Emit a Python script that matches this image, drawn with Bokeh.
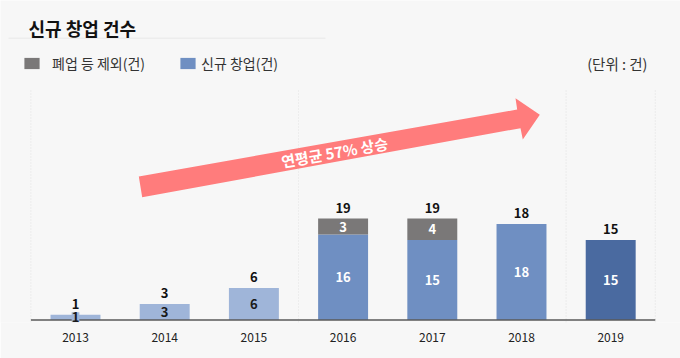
from bokeh.plotting import figure
from bokeh.models import Range1d, FixedTicker, Legend, LegendItem, Label, ColumnDataSource
from bokeh.core.properties import value
from bokeh.embed import file_html
from bokeh.resources import INLINE

# ---- data ----
years = ["2013", "2014", "2015", "2016", "2017", "2018", "2019"]
new_startups = [1, 3, 6, 16, 15, 18, 15]        # 신규 창업(건)
excluded = [0, 0, 0, 3, 4, 0, 0]                # 폐업 등 제외(건)
totals = [n + e for n, e in zip(new_startups, excluded)]

# ---- styles ----
FONT = "Noto Sans CJK KR"
bar_colors = ["#9fb5d9"] * 3 + ["#6f8fc2"] * 3 + ["#4a6aa0"]
inner_text_colors = ["#1a1a1a"] * 3 + ["#ffffff"] * 4
excluded_color = "#7a7878"
arrow_color = "#ff7c7c"
bg = "#f7f7f7"

W, H = 680, 358
FRAME_H = 322
X0, XS = 75.0, 89.2   # px of first category, px per category
Y0, YS = 319.5, 5.34  # px of value 0, px per unit


def dx(px):
    return (px - X0) / XS


def dy(py):
    return (Y0 - py) / YS


idx = list(range(len(years)))

p = figure(width=W, height=H, output_backend="svg", toolbar_location=None,
           x_range=Range1d(dx(0), dx(W)), y_range=Range1d(dy(FRAME_H), dy(0)),
           y_axis_location=None, min_border_left=0, min_border_right=0,
           min_border_top=0, min_border_bottom=H - FRAME_H,
           background_fill_color=bg, border_fill_color=bg, outline_line_color=None)
p.grid.visible = False

# x axis with year labels
ax = p.xaxis[0]
ax.ticker = FixedTicker(ticks=idx)
ax.major_label_overrides = {i: y for i, y in zip(idx, years)}
ax.axis_line_color = None
ax.major_tick_line_color = None
ax.minor_tick_line_color = None
ax.major_label_text_font = FONT
ax.major_label_text_font_size = "12px"
ax.major_label_text_color = "#222222"
ax.major_label_standoff = 4

# section dividers (faint dotted)
dividers = [-0.5, 2.5, 5.5, 6.5]
p.segment(x0=dividers, x1=dividers, y0=[dy(FRAME_H)] * 4, y1=[dy(90)] * 4,
          line_color="#e2e2e2", line_width=1, line_dash="1 2")

# title + separator
p.add_layout(Label(x=dx(28), y=dy(27), text="신규 창업 건수", text_font=FONT,
                   text_font_size="18px", text_font_style="bold", text_color="#111111",
                   text_align="left", text_baseline="middle"))
p.segment(x0=[dx(8)], x1=[dx(325)], y0=[dy(37.7)], y1=[dy(37.7)],
          line_color="#e8e8e8", line_width=1)

# unit note
p.add_layout(Label(x=dx(647), y=dy(63), text="(단위 : 건)", text_font=FONT,
                   text_font_size="14.5px", text_color="#333333",
                   text_align="right", text_baseline="middle"))

# arrow
arrow_px = [(138.3, 176.0), (516.7, 109.0), (515.0, 97.7), (539.3, 114.3),
            (522.3, 139.0), (520.0, 127.7), (141.7, 196.7)]
p.patch(x=[dx(a) for a, b in arrow_px], y=[dy(b) for a, b in arrow_px],
        fill_color=arrow_color, line_color=None)
p.text(x=[dx(334)], y=[dy(151.5)], text=["연평균 57% 상승"], angle=0.1752,
       text_font=value(FONT), text_font_size="15px", text_font_style="bold",
       text_color="white", text_align="center", text_baseline="middle")

# bars
src = ColumnDataSource(dict(x=idx, new=new_startups, tot=totals,
                            color=bar_colors, tcolor=inner_text_colors,
                            mid=[n / 2 for n in new_startups],
                            lbl=[str(n) for n in new_startups],
                            tlbl=[str(t) for t in totals]))
r_new = p.vbar(x="x", width=0.56, bottom=0, top="new", fill_color="color",
               line_color=None, source=src)

ex_i = [i for i in idx if excluded[i] > 0]
src_ex = ColumnDataSource(dict(x=ex_i,
                               bottom=[new_startups[i] for i in ex_i],
                               top=[totals[i] for i in ex_i],
                               mid=[new_startups[i] + excluded[i] / 2 for i in ex_i],
                               lbl=[str(excluded[i]) for i in ex_i]))
r_ex = p.vbar(x="x", width=0.56, bottom="bottom", top="top", fill_color=excluded_color,
              line_color=None, source=src_ex)

# baseline
p.segment(x0=[-0.5], x1=[6.5], y0=[0], y1=[0], line_color="#5a5a5a", line_width=1.5)

# labels
p.text(x="x", y="mid", text="lbl", source=src, text_font=value(FONT),
       text_font_size="13px", text_font_style="bold", text_color="tcolor",
       text_align="center", text_baseline="middle",
       background_fill_color="color")
p.text(x="x", y="mid", text="lbl", source=src_ex, text_font=value(FONT),
       text_font_size="13px", text_font_style="bold", text_color="white",
       text_align="center", text_baseline="middle")
p.text(x="x", y="tot", text="tlbl", source=src, text_font=value(FONT),
       text_font_size="13px", text_font_style="bold", text_color="#111111",
       text_align="center", text_baseline="middle", y_offset=-11)

# legends (swatch = the 2016 bar of each series)
common = dict(orientation="horizontal", glyph_width=19, glyph_height=14, label_height=14,
              padding=0, margin=0, background_fill_alpha=0, border_line_alpha=0,
              label_text_font=FONT, label_text_font_size="14px",
              label_text_color="#333333")
legend_ex = Legend(items=[LegendItem(label="폐업 등 제외(건)", renderers=[r_ex], index=0)],
                   location=(22, 249), label_standoff=11, **common)
legend_new = Legend(items=[LegendItem(label="신규 창업(건)", renderers=[r_new], index=3)],
                    location=(178, 249), label_standoff=4, **common)
p.add_layout(legend_ex, "center")
p.add_layout(legend_new, "center")

open("out.html", "w").write(file_html(p, INLINE))
